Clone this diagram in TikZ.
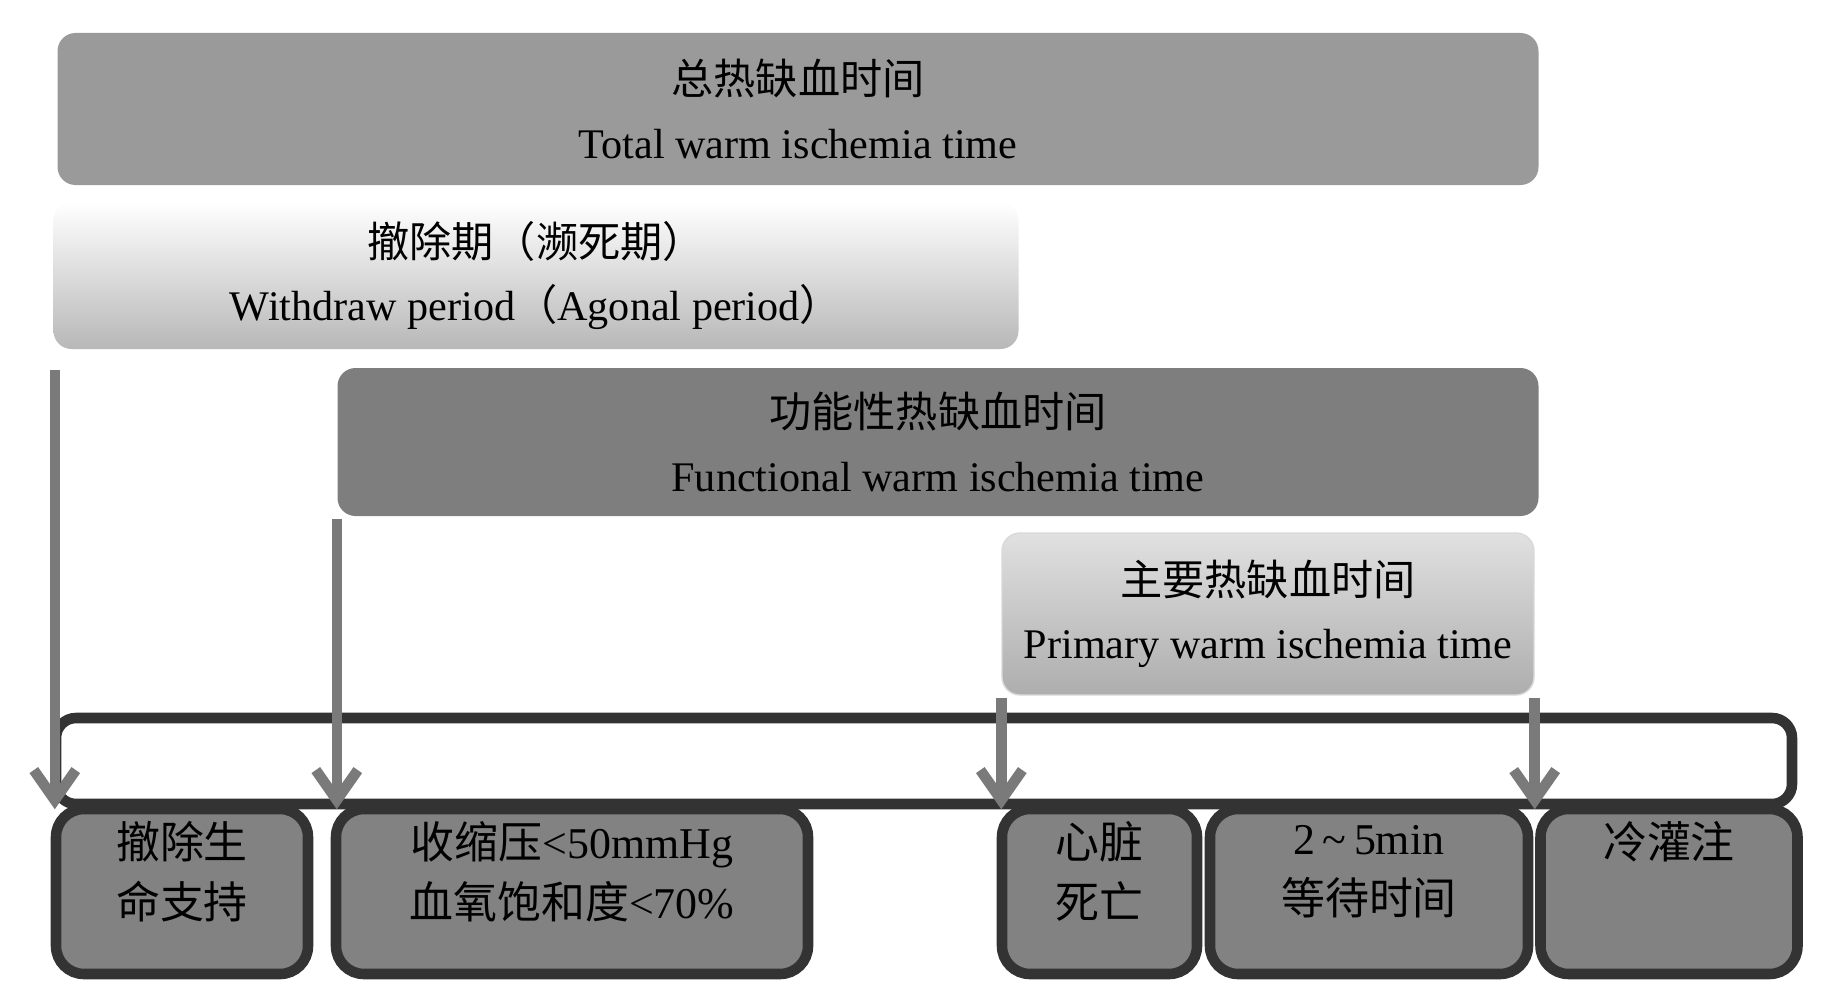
\documentclass[tikz,border=0pt]{standalone}
\usepackage{fontspec}
\setmainfont{Liberation Serif}
\newfontfamily\cjk{Noto Sans CJK SC}
\usetikzlibrary{arrows.meta,calc}
\definecolor{topgray}{HTML}{9A9A9A}
\definecolor{midgray}{HTML}{7E7E7E}
\definecolor{boxgray}{HTML}{828282}
\definecolor{edgegray}{HTML}{333333}
\definecolor{arrowgray}{HTML}{7A7A7A}

\tikzset{
  period/.style={rounded corners=0.18cm, align=center, inner sep=0pt,
                 font=\fontsize{12}{18}\selectfont},
  stage/.style={draw=edgegray, fill=boxgray, line width=3pt, rounded corners=0.28cm,
                inner sep=0pt, minimum height=1.65cm},
  stagetext/.style={align=center, inner sep=0pt, font=\fontsize{12.5}{17}\selectfont},
  marker/.style={draw=arrowgray, line width=3pt,
                 -{Straight Barb[length=0.3cm,width=0.42cm,line width=3pt]}},
}

\begin{document}
\begin{tikzpicture}
  \useasboundingbox (0,0) rectangle (18.24,-9.90);
  % periods
  \node[period, fill=topgray, minimum width=14.81cm, minimum height=1.52cm]
    (total) at (7.98,-1.09) {{\cjk 总热缺血时间}\\Total warm ischemia time};
  \node[period, top color=white, bottom color=black!28, minimum width=9.65cm, minimum height=1.47cm]
    (withdraw) at (5.36,-2.755) {{\cjk 撤除期（濒死期）}\\Withdraw period{\cjk （}Agonal period{\cjk ）}};
  \node[period, fill=midgray, minimum width=12.01cm, minimum height=1.48cm]
    (functional) at (9.38,-4.42) {{\cjk 功能性热缺血时间}\\Functional warm ischemia time};
  \node[period, draw=black!15, top color=black!12, bottom color=black!32, minimum width=5.32cm, minimum height=1.62cm]
    (primary) at (12.68,-6.14) {{\cjk 主要热缺血时间}\\Primary warm ischemia time};
  % time line
  \node[draw=edgegray, line width=3pt, rounded corners=0.2cm, minimum width=17.36cm,
        minimum height=0.86cm, inner sep=0pt] (bar) at (9.24,-7.61) {};
  % stages
  \node[stage, minimum width=2.52cm] (withdrawal) at (1.82,-8.915) {};
  \node[stage, minimum width=4.72cm] (pressure) at (5.72,-8.915) {};
  \node[stage, minimum width=1.95cm] (death) at (10.995,-8.915) {};
  \node[stage, minimum width=3.18cm] (waiting) at (13.69,-8.915) {};
  \node[stage, minimum width=2.57cm] (cold) at (16.69,-8.915) {};
  \node[stagetext] (withdrawal-t) at ([yshift=0.2cm]withdrawal.center) {\cjk 撤除生\\\cjk 命支持};
  \node[stagetext] (pressure-t) at ([yshift=0.2cm]pressure.center) {{\cjk 收缩压}<50mmHg\\{\cjk 血氧饱和度}<70\%};
  \node[stagetext] (death-t) at ([yshift=0.2cm]death.center) {\cjk 心脏\\\cjk 死亡};
  \node[stagetext] (waiting-t) at ([yshift=0.2cm]waiting.center) {2\,\textasciitilde\,5min\\\cjk 等待时间};
  \node[stagetext] (cold-t) at ([yshift=0.5cm]cold.center) {\cjk 冷灌注};
  % markers
  \draw[marker] ([shift={(0.02,-0.2)}]withdraw.south west) -- ([xshift=0.02cm]withdraw.south west |- bar.south);
  \draw[marker] ([shift={(0.0,-0.02)}]functional.south west) -- (functional.south west |- bar.south);
  \draw[marker] ([shift={(0.0,-0.02)}]primary.south west) -- (primary.south west |- bar.south);
  \draw[marker] ([shift={(0.0,-0.02)}]primary.south east) -- (primary.south east |- bar.south);
\end{tikzpicture}
\end{document}
